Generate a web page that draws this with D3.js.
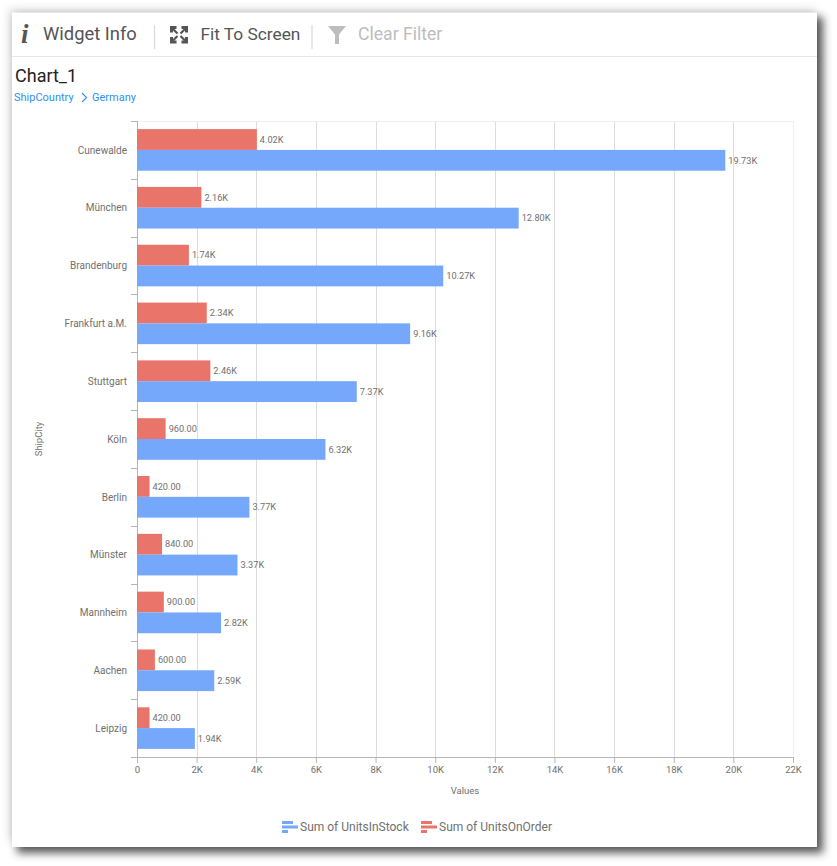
<!DOCTYPE html>
<html>
<head>
<meta charset="utf-8">
<title>Chart_1</title>
<script src="https://cdn.jsdelivr.net/npm/d3@7"></script>
<style>
  html, body { margin: 0; background: #fff; }
  svg { display: block; font-family: Roboto, sans-serif; }
</style>
</head>
<body>
<div id="chart"></div>
<script>
// values
var cities = ["Cunewalde", "München", "Brandenburg", "Frankfurt a.M.", "Stuttgart", "Köln", "Berlin", "Münster", "Mannheim", "Aachen", "Leipzig"];
var unitsInStock = [19730, 12800, 10270, 9160, 7370, 6320, 3770, 3370, 2820, 2590, 1940];
var unitsOnOrder = [4020, 2160, 1740, 2340, 2460, 960, 420, 840, 900, 600, 420];
var stockLabels = ["19.73K", "12.80K", "10.27K", "9.16K", "7.37K", "6.32K", "3.77K", "3.37K", "2.82K", "2.59K", "1.94K"];
var orderLabels = ["4.02K", "2.16K", "1.74K", "2.34K", "2.46K", "960.00", "420.00", "840.00", "900.00", "600.00", "420.00"];
var xTicks = [0, 2000, 4000, 6000, 8000, 10000, 12000, 14000, 16000, 18000, 20000, 22000];

var width = 837, height = 866;
var blue = "#75a7fb", red = "#e8746a";
var textGrey = "#707070";

var svg = d3.select("#chart").append("svg")
    .attr("width", width)
    .attr("height", height);

// panel with the heavy drop shadow
var defs = svg.append("defs");
var blur = defs.append("filter").attr("id", "shadow")
    .attr("x", "-5%").attr("y", "-5%").attr("width", "110%").attr("height", "110%");
blur.append("feGaussianBlur").attr("stdDeviation", 4.5);

svg.append("rect")
    .attr("x", 9).attr("y", 9).attr("width", 806).attr("height", 832)
    .attr("fill", "#999").attr("opacity", 0.35).attr("filter", "url(#shadow)");
svg.append("rect")
    .attr("x", 17).attr("y", 17).attr("width", 806).attr("height", 836)
    .attr("fill", "#3a3a3a").attr("opacity", 0.85).attr("filter", "url(#shadow)");
svg.append("rect")
    .attr("x", 12).attr("y", 12.5).attr("width", 805).attr("height", 834.5)
    .attr("fill", "#fff");

// toolbar
svg.append("line")
    .attr("x1", 12).attr("x2", 817).attr("y1", 56.5).attr("y2", 56.5)
    .attr("stroke", "#e6e6e6");

function toolbarText(x, label, color, size) {
  svg.append("text")
      .attr("x", x).attr("y", 40)
      .attr("font-size", size)
      .attr("fill", color)
      .text(label);
}
toolbarText(43, "Widget Info", "#555", 18.4);
toolbarText(200.5, "Fit To Screen", "#555", 17.3);
toolbarText(358, "Clear Filter", "#bdbdbd", 17.6);

[154.5, 312].forEach(function (x) {
  svg.append("line")
      .attr("x1", x).attr("x2", x).attr("y1", 25).attr("y2", 49)
      .attr("stroke", "#d9d9d9").attr("stroke-width", 1.2);
});

// info icon
svg.append("text")
    .attr("x", 21).attr("y", 43)
    .attr("font-family", "'Liberation Serif', serif")
    .attr("font-style", "italic").attr("font-weight", "bold")
    .attr("font-size", 27)
    .attr("fill", "#555")
    .text("i");

// fit to screen icon, four solid corners with small arrows
svg.append("path")
    .attr("fill", "#555")
    .attr("d", "M170 26h6.5v3h-3.5v3.5h-3zM188 26h-6.5v3h3.5v3.5h3zM170 43.5h6.5v-3h-3.5v-3.5h-3zM188 43.5h-6.5v-3h3.5v-3.5h3z");
svg.append("path")
    .attr("fill", "none").attr("stroke", "#555").attr("stroke-width", 2.2)
    .attr("d", "M173 29l4.5 4.5M185 29l-4.5 4.5M173 40.5l4.5-4.5M185 40.5l-4.5-4.5");

// filter icon
svg.append("path")
    .attr("fill", "#bdbdbd")
    .attr("d", "M328 26h18l-7 8.5v9.5h-4v-9.5z");

// title and breadcrumb
svg.append("text")
    .attr("x", 15).attr("y", 82)
    .attr("font-size", 18)
    .attr("fill", "#222")
    .text("Chart_1");
svg.append("text")
    .attr("x", 14).attr("y", 101)
    .attr("font-size", 11)
    .attr("fill", "#2f8ff0")
    .text("ShipCountry");
svg.append("path")
    .attr("d", "M82 93l4.5 4.5-4.5 4.5")
    .attr("fill", "none").attr("stroke", "#2f8ff0").attr("stroke-width", 1.1);
svg.append("text")
    .attr("x", 92).attr("y", 101)
    .attr("font-size", 11)
    .attr("fill", "#2f8ff0")
    .text("Germany");

// scales
var plot = { left: 137, right: 793, top: 121, bottom: 757 };

var x = d3.scaleLinear()
    .domain([0, 22000])
    .range([plot.left, plot.right]);

var y = d3.scaleBand()
    .domain(cities)
    .range([plot.top, plot.bottom]);

var series = d3.scaleBand()
    .domain(["order", "stock"])
    .range([0, y.bandwidth()])
    .paddingOuter(0.39)
    .paddingInner(0);

// grid
svg.append("g").selectAll("line")
    .data(xTicks.slice(1))
    .enter().append("line")
    .attr("x1", function (d) { return Math.round(x(d)) + 0.5; })
    .attr("x2", function (d) { return Math.round(x(d)) + 0.5; })
    .attr("y1", plot.top)
    .attr("y2", plot.bottom)
    .attr("stroke", function (d) { return d === 22000 ? "#efefef" : "#dcdcdc"; });

svg.append("line")
    .attr("x1", plot.left).attr("x2", plot.right)
    .attr("y1", plot.top + 0.5).attr("y2", plot.top + 0.5)
    .attr("stroke", "#efefef");

// axes
var xAxis = d3.axisBottom(x)
    .tickValues(xTicks)
    .tickFormat(function (d) { return d === 0 ? "0" : (d / 1000) + "K"; })
    .tickSize(6)
    .tickPadding(3);

var yAxis = d3.axisLeft(y)
    .tickSize(0)
    .tickPadding(10);

var gx = svg.append("g")
    .attr("transform", "translate(0," + plot.bottom + ")")
    .call(xAxis);
gx.selectAll("path").attr("stroke", "#b5b5b5");
gx.selectAll("line").attr("stroke", "#b5b5b5");
gx.selectAll("text").attr("font-size", 9.5).attr("font-family", "Roboto, sans-serif").attr("fill", textGrey);

var gy = svg.append("g")
    .attr("transform", "translate(" + plot.left + ",0.5)")
    .call(yAxis);
gy.select("path").remove();
gy.selectAll("text").attr("font-size", 10).attr("font-family", "Roboto, sans-serif").attr("fill", textGrey);

// band separators on the category axis
svg.append("g").selectAll("line")
    .data(cities.concat(["end"]))
    .enter().append("line")
    .attr("x1", plot.left - 6).attr("x2", plot.left)
    .attr("y1", function (d, i) { return Math.round(plot.top + i * y.step()) + 0.5; })
    .attr("y2", function (d, i) { return Math.round(plot.top + i * y.step()) + 0.5; })
    .attr("stroke", "#b5b5b5");
svg.append("line")
    .attr("x1", plot.left + 0.5).attr("x2", plot.left + 0.5)
    .attr("y1", plot.top).attr("y2", plot.bottom)
    .attr("stroke", "#b5b5b5");

// bars
function drawBars(key, values, labels, color) {
  var g = svg.append("g");
  g.selectAll("rect")
      .data(cities)
      .enter().append("rect")
      .attr("x", plot.left)
      .attr("y", function (d) { return y(d) + series(key); })
      .attr("width", function (d, i) { return x(values[i]) - plot.left; })
      .attr("height", series.bandwidth())
      .attr("fill", color);
  g.selectAll("text")
      .data(cities)
      .enter().append("text")
      .attr("x", function (d, i) { return x(values[i]) + 3; })
      .attr("y", function (d) { return y(d) + series(key) + series.bandwidth() / 2; })
      .attr("dy", "0.35em")
      .attr("font-size", 9.2)
      .attr("fill", textGrey)
      .text(function (d, i) { return labels[i]; });
}
drawBars("order", unitsOnOrder, orderLabels, red);
drawBars("stock", unitsInStock, stockLabels, blue);

// axis titles
svg.append("text")
    .attr("x", 465).attr("y", 794)
    .attr("text-anchor", "middle")
    .attr("font-size", 9.5)
    .attr("fill", textGrey)
    .text("Values");
svg.append("text")
    .attr("transform", "translate(42,439) rotate(-90)")
    .attr("text-anchor", "middle")
    .attr("font-size", 9.5)
    .attr("fill", textGrey)
    .text("ShipCity");

// legend
function legendItem(lx, color, label) {
  var g = svg.append("g").attr("transform", "translate(" + lx + ",821)");
  [[0, 0, 11], [4.5, 0, 16], [9, 0, 6]].forEach(function (b) {
    g.append("rect")
        .attr("x", b[1]).attr("y", b[0])
        .attr("width", b[2]).attr("height", 3)
        .attr("fill", color);
  });
  g.append("text")
      .attr("x", 18).attr("y", 10)
      .attr("font-size", 12)
      .attr("fill", textGrey)
      .text(label);
}
legendItem(282, blue, "Sum of UnitsInStock");
legendItem(421, red, "Sum of UnitsOnOrder");
</script>
</body>
</html>
